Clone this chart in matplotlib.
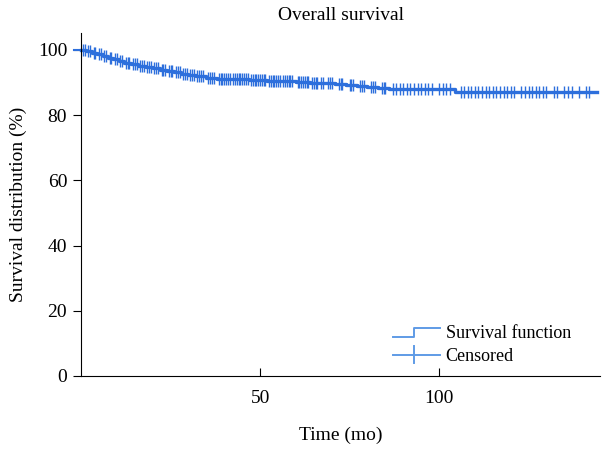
import matplotlib
matplotlib.use("Agg")
import matplotlib.pyplot as plt
from matplotlib.legend_handler import HandlerBase
from matplotlib.lines import Line2D

plt.rcParams['font.family'] = ['Liberation Serif', 'DejaVu Serif']

# Kaplan-Meier step function (time in months, survival in %)
event_times = [0, 1.5, 3, 4.5, 6, 7.5, 9, 10.5, 12, 14, 16, 18, 20, 22, 24, 26, 28, 30,
               32, 35, 38, 42, 47, 52, 56, 60, 64, 68, 71, 74, 77, 80, 83, 86, 104.5]
survival = [100, 99.6, 99.1, 98.6, 98.1, 97.6, 97.1, 96.6, 96.1, 95.6, 95.1, 94.7, 94.3,
            93.9, 93.5, 93.1, 92.7, 92.3, 91.9, 91.5, 91.2, 91.0, 90.8, 90.6, 90.4, 90.2,
            90.0, 89.8, 89.5, 89.2, 88.9, 88.6, 88.3, 88.0, 87.1]
end_time = 144

# Censored observation times (months)
censored = [0.5, 1, 2, 2.5, 3.5, 4, 5, 5.5, 6.5, 7, 8, 8.5, 9.5, 10, 11, 11.5, 12.5, 13,
            13.5, 14.5, 15, 15.5, 16.5, 17, 17.5, 18.5, 19, 19.5, 20.5, 21, 21.5, 22.5,
            23, 23.5, 24.5, 25, 25.5, 26.5, 27, 27.5, 28.5, 29, 29.5, 30.5, 31, 31.5,
            32.5, 33, 33.5, 34, 35.5, 36, 36.5, 37, 38.5, 39, 39.5, 40, 40.5, 41, 41.5,
            42.5, 43, 43.5, 44, 44.5, 45, 45.5, 46, 46.5, 47.5, 48, 48.5, 49, 49.5, 50,
            50.5, 51, 51.5, 52.5, 53, 53.5, 54, 54.5, 55, 55.5, 56.5, 57, 57.5, 58, 58.5,
            59, 60.5, 61, 61.5, 62, 62.5, 63, 63.5, 64.5, 65, 65.5, 66, 67, 67.5, 69, 69.5,
            70, 72, 72.5, 73, 75, 75.5, 76, 78, 78.5, 79, 81, 81.5, 82, 84, 84.5, 85, 87,
            88, 89, 90, 91, 92, 93, 94, 95, 96, 97, 98, 100, 101, 102, 103, 106, 107, 108,
            109, 110, 111, 112, 113, 114, 115, 116, 117, 118, 119, 120, 121, 123, 124,
            125, 126, 127, 128, 129, 130, 132, 133, 135, 136, 137, 139, 141, 142]

x_ticks = [50, 100]
y_ticks = [0, 20, 40, 60, 80, 100]

color = '#2d6fdc'
light = '#5f9be6'


def surv_at(t):
    s = survival[0]
    for et, sv in zip(event_times, survival):
        if et <= t:
            s = sv
    return s


fig = plt.figure(figsize=(6.05, 4.49), dpi=100)
ax = fig.add_axes([0.134, 0.1626, 0.858, 0.764])

xs = event_times + [end_time]
ys = survival + [survival[-1]]
ax.step(xs, ys, where='post', color=color, lw=2.4, clip_on=False)
ax.plot(censored, [surv_at(t) for t in censored], linestyle='none', marker='|',
        markersize=9, markeredgewidth=1.0, color=color, clip_on=False)
ax.plot([-2, 1], [100, 100], color=color, lw=1.5, clip_on=False)

ax.set_xlim(0, 145)
ax.set_ylim(0, 105.2)
ax.set_xticks(x_ticks)
ax.set_yticks(y_ticks)
ax.spines['top'].set_visible(False)
ax.spines['right'].set_visible(False)
ax.tick_params(axis='x', direction='in', length=6, labelsize=14, pad=10)
ax.tick_params(axis='y', direction='out', length=6, labelsize=14, pad=4)

ax.set_title('Overall survival', fontsize=14, pad=9)
ax.set_xlabel('Time (mo)', fontsize=14, labelpad=14)
ax.set_ylabel('Survival distribution (%)', fontsize=14, labelpad=8)


class StepHandler(HandlerBase):
    def create_artists(self, legend, orig_handle, xdescent, ydescent, width, height,
                       fontsize, trans):
        x0 = -xdescent
        y0 = -ydescent + height * 0.15
        y1 = -ydescent + height * 0.85
        xm = x0 + width * 0.45
        ln = Line2D([x0, xm, xm, x0 + width], [y0, y0, y1, y1], color=light, lw=1.4,
                    transform=trans)
        return [ln]


class CensorHandler(HandlerBase):
    def create_artists(self, legend, orig_handle, xdescent, ydescent, width, height,
                       fontsize, trans):
        x0 = -xdescent
        yc = -ydescent + height / 2
        ln = Line2D([x0, x0 + width], [yc, yc], color=light, lw=1.4, transform=trans)
        xm = x0 + width * 0.45
        tick = Line2D([xm, xm], [yc - height * 0.7, yc + height * 0.7], color=light,
                      lw=1.4, transform=trans)
        return [ln, tick]


h1 = Line2D([], [])
h2 = Line2D([], [])
ax.legend([h1, h2], ['Survival function', 'Censored'],
          handler_map={h1: StepHandler(), h2: CensorHandler()},
          loc='lower right', bbox_to_anchor=(0.975, -0.015), frameon=False, fontsize=13,
          handlelength=2.6, handletextpad=0.3, labelspacing=0.3)

fig.savefig('out.png', dpi=100)
